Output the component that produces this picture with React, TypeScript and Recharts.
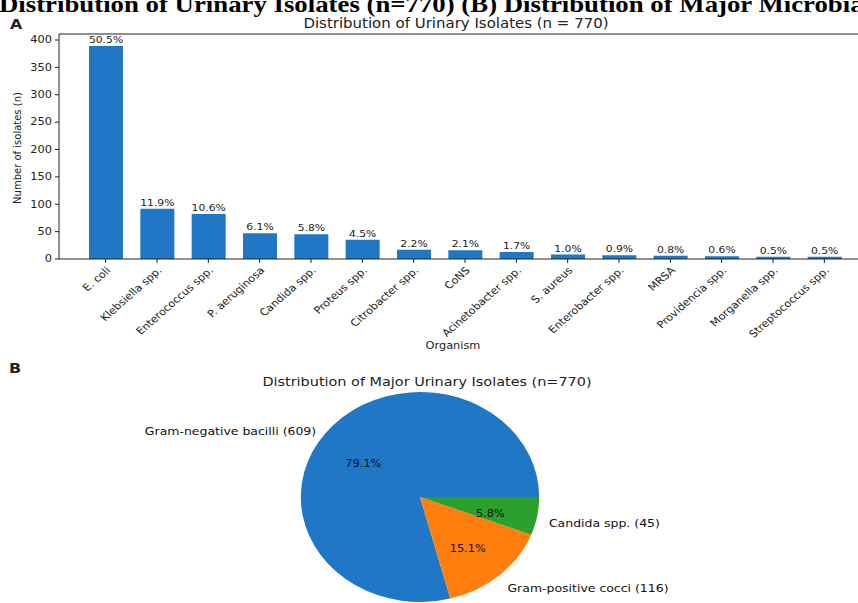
import React from 'react';
import { BarChart, Bar, XAxis, YAxis, LabelList, ReferenceLine, PieChart, Pie, Cell } from 'recharts';

const organisms = [
  'E. coli', 'Klebsiella spp.', 'Enterococcus spp.', 'P. aeruginosa', 'Candida spp.',
  'Proteus spp.', 'Citrobacter spp.', 'CoNS', 'Acinetobacter spp.', 'S. aureus',
  'Enterobacter spp.', 'MRSA', 'Providencia spp.', 'Morganella spp.', 'Streptococcus spp.',
];
const counts = [389, 92, 82, 47, 45, 35, 17, 16, 13, 8, 7, 6, 5, 4, 4];
const yTicks = [0, 50, 100, 150, 200, 250, 300, 350, 400];
const TOTAL = 770;

const groups = ['Gram-negative bacilli', 'Gram-positive cocci', 'Candida spp.'];
const groupCounts = [609, 116, 45];
const groupColors = ['#1f77c6', '#ff7f0e', '#2ca02c'];

const barData = organisms.map((name, i) => ({
  name,
  count: counts[i],
  pct: `${((counts[i] / TOTAL) * 100).toFixed(1)}%`,
}));
const pieData = groups.map((name, i) => ({ name, value: groupCounts[i] }));

const FONT = 'DejaVu Sans, sans-serif';
const SX = 1.135; // horizontal stretch of the reference figure
const INK = '#222';

const SText = ({ x, y, size, anchor = 'start', bold = false, children, baseline }: any) => (
  <text
    transform={`translate(${x},${y}) scale(${SX},1)`}
    textAnchor={anchor}
    dominantBaseline={baseline}
    fontSize={size}
    fontWeight={bold ? 'bold' : 'normal'}
    fontFamily={FONT}
    fill={INK}
  >
    {children}
  </text>
);

const XTick = (props: any) => {
  const { x, y, payload } = props;
  return (
    <g transform={`translate(${x},${y}) scale(${SX},1) rotate(-45)`}>
      <text x={0} y={7} textAnchor="end" fontSize={10} fontFamily={FONT} fill={INK}>
        {payload.value}
      </text>
    </g>
  );
};

const YTick = (props: any) => {
  const { x, y, payload } = props;
  return (
    <SText x={x} y={y} size={10} anchor="end" baseline="central">
      {payload.value}
    </SText>
  );
};

const BarLabel = (props: any) => {
  const { x, y, width, value } = props;
  return (
    <SText x={x + width / 2} y={y - 3} size={9.5} anchor="middle">
      {value}
    </SText>
  );
};

const renderPieLabel = (props: any) => {
  const { cx, cy, midAngle, outerRadius, index, percent } = props;
  const rad = Math.PI / 180;
  const c = Math.cos(-midAngle * rad);
  const s = Math.sin(-midAngle * rad);
  const ix = cx + outerRadius * 0.6 * c;
  const iy = cy + outerRadius * 0.6 * s + 5;
  const ox = cx + outerRadius * 1.1 * c;
  const oy = cy + outerRadius * 1.1 * s + 5;
  return (
    <g>
      <text
        x={ix}
        y={iy}
        textAnchor="middle"
        dominantBaseline="central"
        fontSize={10}
        fontFamily={FONT}
        fill="#111"
      >
        {`${(percent * 100).toFixed(1)}%`}
      </text>
      <text
        x={ox}
        y={oy}
        textAnchor={c >= 0 ? 'start' : 'end'}
        dominantBaseline="central"
        fontSize={11}
        fontFamily={FONT}
        fill="#111"
      >
        {`${groups[index]} (${groupCounts[index]})`}
      </text>
    </g>
  );
};

export default function App() {
  return (
    <div
      style={{
        position: 'fixed',
        left: 0,
        top: 0,
        width: 858,
        height: 603,
        overflow: 'hidden',
        background: '#fff',
      }}
    >
      <div style={{ position: 'absolute', left: 0, top: 0 }}>
        <BarChart
          width={900}
          height={360}
          data={barData}
          margin={{ top: 34, right: 28, bottom: 0, left: 0 }}
        >
          <XAxis
            dataKey="name"
            interval={0}
            height={101}
            tickSize={4}
            tickMargin={3}
            padding={{ left: 21, right: 22 }}
            stroke={INK}
            tick={<XTick />}
          />
          <YAxis
            width={59}
            domain={[0, 411]}
            ticks={yTicks}
            tickSize={4}
            tickMargin={3}
            stroke={INK}
            tick={<YTick />}
          />
          <ReferenceLine y={411} stroke={INK} />
          <Bar dataKey="count" fill="#1f77c6" barSize={34} isAnimationActive={false}>
            <LabelList dataKey="pct" content={<BarLabel />} />
          </Bar>
        </BarChart>
      </div>

      <div
        style={{
          position: 'absolute',
          left: 20,
          top: 380,
          width: 800,
          height: 223,
          transform: `scaleX(${SX})`,
          transformOrigin: '400px 117px',
        }}
      >
        <PieChart width={800} height={223} margin={{ top: 0, right: 0, bottom: 0, left: 0 }}>
          <Pie
            data={pieData}
            dataKey="value"
            nameKey="name"
            cx={400}
            cy={117}
            outerRadius={105}
            startAngle={0}
            endAngle={360}
            stroke="none"
            label={renderPieLabel}
            labelLine={false}
            isAnimationActive={false}
          >
            {pieData.map((d, i) => (
              <Cell key={d.name} fill={groupColors[i]} />
            ))}
          </Pie>
        </PieChart>
      </div>

      <svg
        width={858}
        height={603}
        style={{ position: 'absolute', left: 0, top: 0, pointerEvents: 'none' }}
      >
        <text
          x={-1}
          y={12}
          fontSize={23}
          fontWeight="bold"
          fontFamily="Liberation Serif, serif"
          fill="#000"
          textLength={872}
          lengthAdjust="spacingAndGlyphs"
        >
          Distribution of Urinary Isolates (n=770) (B) Distribution of Major Microbial
        </text>
        <SText x={10} y={29} size={14} bold>A</SText>
        <SText x={456} y={28} size={13.2} anchor="middle">
          Distribution of Urinary Isolates (n = 770)
        </SText>
        <text
          transform="translate(21,148) rotate(-90)"
          textAnchor="middle"
          fontSize={10}
          fontFamily={FONT}
          fill={INK}
        >
          Number of isolates (n)
        </text>
        <SText x={453} y={349} size={10} anchor="middle">Organism</SText>
        <SText x={9} y={373} size={14} bold>B</SText>
        <SText x={427} y={386} size={12.7} anchor="middle">
          Distribution of Major Urinary Isolates (n=770)
        </SText>
      </svg>
    </div>
  );
}
